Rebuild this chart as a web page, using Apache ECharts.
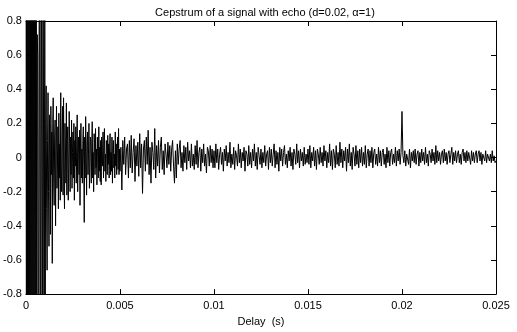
<!DOCTYPE html>
<html>
	<head>
		<meta charset="utf-8">
		<title>Cepstrum of a signal with echo</title>
		<script src="https://cdn.jsdelivr.net/npm/echarts@6/dist/echarts.min.js" type="text/javascript" charset="utf-8"></script>
	</head>
	<style type="text/css">
		html,
		body {
			margin: 0;
			padding: 0;
			background: #fff;
		}

		#chart {
			width: 517px;
			height: 332px;
		}
	</style>

	<body>
		<div id="chart"></div>

		<script>
			// 前 0.005 s 采样更密, 之后间隔加倍 (s)
			var stepFine = 0.000025;
			var stepCoarse = 0.00005;
			var xTicks = [0, 0.005, 0.01, 0.015, 0.02, 0.025];
			var yTicks = [-0.8, -0.6, -0.4, -0.2, 0, 0.2, 0.4, 0.6, 0.8];

			// 0 - 0.001 s
			var head = [
				2.6, -1.9, 1.5, -1.4, 1.7, -1.1, 1.2, -1.6, 0.9, -1.2, 1.4, -0.8, 1.1, -1.3, 1.0, -0.95, 1.3, -1.1, 1.2, -0.9,
				1.1, -1.0, 0.95, -1.2, 0.72, 0.6, -1.1, -1.3, 0.78, 1.2, -0.9, -1.2, 1.3, 1.1, -1.0, -1.4, 1.2, 0.9, -0.95, -1.3
			];
			// 0.001 - 0.005 s
			var seg1 = [
				1.0, -0.85, 0.2, 0.42, -0.3, -0.66, 0.1, 0.38, -0.2, -0.52, 0.25, 0.05, -0.45, 0.3, -0.1, 0.15, -0.62, 0.2, 0.35, -0.15,
				-0.28, 0.12, 0.22, -0.4, 0.05, 0.3, -0.18, -0.05, 0.18, -0.3, 0.26, -0.12, 0.08, -0.25, 0.38, -0.05, -0.2, 0.15, 0.3, -0.22,
				0.35, -0.1, -0.3, 0.2, 0.05, -0.15, 0.32, -0.22, 0.1, 0.18, -0.25, -0.05, 0.27, 0.08, -0.2, 0.12, -0.1, 0.22, -0.18, 0.03,
				0.15, -0.12, 0.2, -0.25, 0.1, -0.05, 0.18, -0.15, 0.06, 0.25, -0.2, 0.02, 0.12, -0.1, 0.16, -0.28, 0.08, 0.2, -0.12, 0.05,
				-0.15, 0.1, 0.18, -0.05, -0.38, 0.12, -0.12, 0.24, 0.05, -0.22, 0.08, 0.15, -0.1, 0.02, 0.2, -0.18, -0.06, 0.12, 0.1, -0.15,
				0.06, 0.21, -0.12, 0.03, -0.2, 0.14, 0.08, -0.1, 0.17, -0.06, 0.05, -0.16, 0.12, 0.02, -0.12, 0.18, -0.08, 0.06, -0.14, 0.1,
				-0.16, 0.12, 0.04, -0.05, 0.15, -0.12, 0.06, 0.17, -0.08, 0.02, -0.14, 0.1, 0.05, -0.1, 0.13, -0.04, 0.08, -0.12, 0.06, 0.14,
				-0.1, 0.03, -0.08, 0.12, -0.15, 0.05, 0.1, -0.06, 0.02, -0.12, 0.15, -0.05, 0.08, -0.1, 0.04, 0.12, -0.07, 0.17, -0.1, 0.05
			];
			// 0.005 - 0.01 s
			var seg2 = [
				-0.08, 0.06, -0.19, 0.1, -0.04, 0.12, -0.1, 0.05, 0.08, -0.12, 0.1, -0.06, 0.13, -0.09, 0.03, 0.11, -0.14, 0.07, -0.05, 0.09,
				-0.11, 0.14, -0.06, 0.08, -0.21, 0.05, 0.1, -0.08, 0.12, -0.04, 0.16, -0.1, 0.06, -0.15, 0.09, 0.03, -0.07, 0.17, -0.12, 0.07,
				-0.05, 0.1, -0.09, 0.06, 0.12, -0.07, 0.04, -0.1, 0.08, 0.02, -0.06, 0.09, -0.04, 0.07, -0.08, 0.05, 0.1, -0.05, -0.15, 0.04,
				-0.12, 0.08, -0.04, 0.05, 0.1, -0.06, 0.03, -0.08, 0.07, -0.03, 0.06, -0.07, 0.09, -0.02, 0.04, -0.06, 0.08, -0.05, 0.02, -0.07,
				0.07, -0.04, 0.1, -0.06, 0.03, 0.06, -0.08, 0.05, -0.03, 0.08, -0.05, 0.02, -0.09, 0.06, 0.04, -0.05, 0.07, -0.03, 0.05, -0.06
			];
			// 0.01 - 0.015 s
			var seg3 = [
				0.04, -0.06, 0.08, -0.03, 0.05, -0.07, 0.02, 0.06, -0.04, 0.03, -0.08, 0.05, -0.02, 0.07, -0.05, 0.03, -0.03, 0.09, -0.06, 0.02,
				-0.04, 0.06, -0.07, 0.04, 0.01, -0.05, 0.08, -0.03, 0.05, -0.06, 0.03, -0.02, 0.06, -0.08, 0.04, 0.02, -0.05, 0.07, -0.04, 0.03,
				-0.06, 0.05, -0.02, 0.08, -0.05, 0.03, -0.07, 0.06, 0.01, -0.04, 0.05, -0.06, 0.03, -0.03, 0.07, -0.05, 0.02, 0.04, -0.07, 0.06,
				-0.03, 0.05, -0.05, 0.02, 0.08, -0.06, 0.04, -0.04, 0.03, -0.08, 0.06, -0.02, 0.05, -0.05, 0.03, 0.07, -0.04, 0.02, -0.06, 0.04,
				-0.02, 0.06, -0.05, 0.03, -0.07, 0.05, 0.02, -0.04, 0.08, -0.03, 0.04, -0.06, 0.05, -0.02, 0.03, -0.05, 0.06, -0.04, 0.02, -0.03
			];
			// 0.015 - 0.02 s
			var seg4 = [
				0.05, -0.04, 0.07, -0.06, 0.03, -0.02, 0.06, -0.05, 0.04, -0.07, 0.05, 0.02, -0.04, 0.06, -0.03, 0.03, -0.05, 0.07, -0.02, 0.04,
				-0.06, 0.03, -0.03, 0.08, -0.05, 0.04, -0.07, 0.05, 0.02, -0.06, 0.07, -0.04, 0.03, -0.05, 0.09, -0.03, 0.05, -0.06, 0.04, -0.02,
				0.06, -0.08, 0.05, -0.03, 0.08, -0.05, 0.03, -0.07, 0.06, 0.02, -0.05, 0.07, -0.04, 0.04, -0.06, 0.05, -0.03, 0.06, -0.05, 0.03,
				-0.04, 0.07, -0.06, 0.02, 0.05, -0.05, 0.04, -0.03, 0.06, -0.06, 0.03, 0.05, -0.04, 0.02, -0.05, 0.06, -0.03, 0.04, -0.05, 0.03,
				0.05, -0.04, 0.02, -0.06, 0.06, -0.03, 0.04, -0.05, 0.03, 0.05, -0.04, 0.02, -0.03, 0.06, -0.05, 0.04, -0.02, 0.05, -0.04, 0.03
			];
			// 0.02 - 0.025 s (回声峰在 0.02)
			var seg5 = [
				0.27, 0.01, -0.03, 0.04, -0.05, 0.02, 0.03, -0.04, 0.05, -0.06, 0.03, -0.02, 0.04, -0.03, 0.05, -0.04, 0.02, 0.04, -0.05, 0.03,
				-0.03, 0.05, -0.02, 0.03, -0.04, 0.06, -0.03, 0.02, -0.05, 0.04, 0.02, -0.03, 0.05, -0.02, 0.03, -0.04, 0.07, -0.03, 0.04, -0.02,
				0.03, -0.04, 0.02, 0.04, -0.03, 0.05, -0.02, 0.03, -0.04, 0.02, 0.04, -0.03, 0.02, 0.06, -0.04, 0.03, -0.02, 0.04, -0.03, 0.02,
				0.04, -0.03, 0.02, -0.04, 0.03, 0.05, -0.02, 0.03, -0.03, 0.04, -0.02, 0.03, 0.02, -0.04, 0.04, -0.02, 0.03, -0.03, 0.02, 0.04,
				-0.03, 0.02, 0.04, -0.02, 0.03, -0.04, 0.02, 0.03, -0.02, 0.04, -0.03, 0.02, 0.03, -0.02, 0.02, -0.03, 0.04, -0.02, 0.01, -0.03, -0.02
			];

			var early = head.concat(seg1);
			var late = seg2.concat(seg3, seg4, seg5);
			var points = [];
			for (var i = 0; i < early.length; i++) {
				points.push([+(i * stepFine).toFixed(7), early[i]]);
			}
			var t0 = early.length * stepFine;
			for (var j = 0; j < late.length; j++) {
				points.push([+(t0 + j * stepCoarse).toFixed(7), late[j]]);
			}

			var fontName = 'Liberation Sans, Arial, sans-serif';

			var chart = echarts.init(document.getElementById('chart'), null, {
				renderer: 'canvas'
			});

			var frameX = function(pos, showLabel) {
				return {
					type: 'value',
					position: pos,
					min: xTicks[0],
					max: xTicks[xTicks.length - 1],
					interval: 0.005,
					axisLine: {
						show: true,
						onZero: false,
						lineStyle: {
							color: '#000',
							width: 1
						}
					},
					axisTick: {
						show: true,
						inside: true,
						length: 5,
						lineStyle: {
							color: '#000'
						}
					},
					axisLabel: {
						show: showLabel,
						color: '#000',
						fontFamily: fontName,
						fontSize: 11,
						margin: 6,
						formatter: function(v) {
							return String(+v.toFixed(4));
						}
					},
					splitLine: {
						show: false
					}
				};
			};

			var frameY = function(pos, showLabel) {
				return {
					type: 'value',
					position: pos,
					min: yTicks[0],
					max: yTicks[yTicks.length - 1],
					interval: 0.2,
					axisLine: {
						show: true,
						onZero: false,
						lineStyle: {
							color: '#000',
							width: 1
						}
					},
					axisTick: {
						show: true,
						inside: true,
						length: 5,
						lineStyle: {
							color: '#000'
						}
					},
					axisLabel: {
						show: showLabel,
						color: '#000',
						fontFamily: fontName,
						fontSize: 11,
						margin: 4,
						formatter: function(v) {
							return String(+v.toFixed(2));
						}
					},
					splitLine: {
						show: false
					}
				};
			};

			var xBottom = frameX('bottom', true);
			xBottom.name = 'Delay  (s)';
			xBottom.nameLocation = 'middle';
			xBottom.nameGap = 19;
			xBottom.nameTextStyle = {
				color: '#000',
				fontFamily: fontName,
				fontSize: 11
			};

			chart.setOption({
				animation: false,
				backgroundColor: '#fff',
				title: {
					text: 'Cepstrum of a signal with echo (d=0.02, \u03b1=1)',
					left: 260,
					textAlign: 'center',
					top: 2,
					textStyle: {
						color: '#000',
						fontFamily: fontName,
						fontSize: 11,
						fontWeight: 'normal'
					}
				},
				grid: {
					left: 25,
					right: 21,
					top: 21,
					bottom: 35,
					containLabel: false
				},
				xAxis: [xBottom, frameX('top', false)],
				yAxis: [frameY('left', true), frameY('right', false)],
				series: [{
					name: 'cepstrum',
					type: 'line',
					xAxisIndex: 0,
					yAxisIndex: 0,
					data: points,
					showSymbol: false,
					symbol: 'none',
					clip: true,
					sampling: null,
					lineStyle: {
						color: '#000',
						width: 1
					}
				}]
			});
		</script>
	</body>
</html>
